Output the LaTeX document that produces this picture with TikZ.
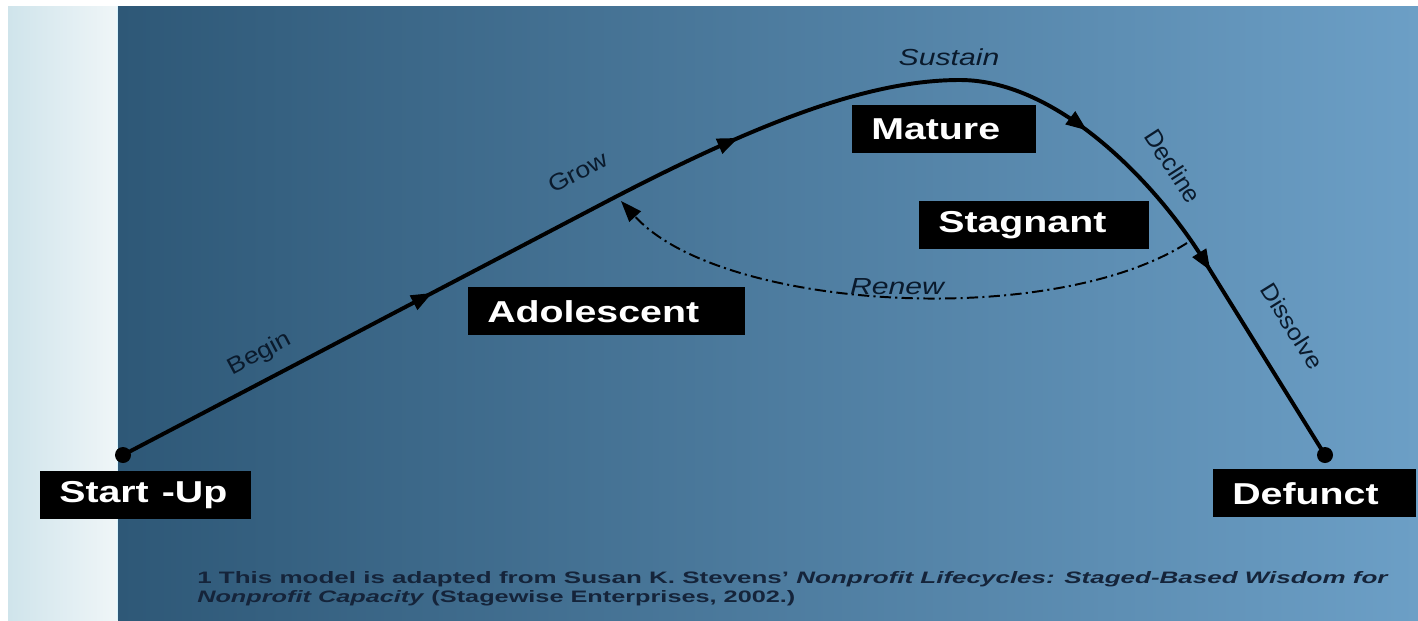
\documentclass[tikz,border=0pt]{standalone}
\usepackage{fontspec}
\usepackage{graphicx}
\setmainfont{Liberation Sans}
\usetikzlibrary{arrows.meta,decorations.markings}

\definecolor{stripL}{HTML}{CFE4EB}
\definecolor{stripR}{HTML}{F0F6F8}
\definecolor{panelL}{HTML}{2E5877}
\definecolor{panelR}{HTML}{6C9FC6}
\definecolor{ink}{HTML}{0A1A2C}
\definecolor{noteink}{HTML}{15243A}

\newcommand{\wide}[1]{\scalebox{1.3}[1]{#1}}

\begin{document}
\begin{tikzpicture}[x=0.025cm, y=-0.025cm,
  stagebox/.style={fill=black, text=white, anchor=north west, align=left,
    font=\fontsize{21.5}{24}\selectfont\bfseries,
    inner xsep=0.475cm, inner ysep=0pt, minimum height=1.2cm},
  dot/.style={circle, fill=black, inner sep=0pt, minimum size=0.4cm},
  lbl/.style={text=ink, inner sep=0pt, font=\fontsize{16.5}{19}\selectfont},
  ilbl/.style={lbl, font=\fontsize{16.5}{19}\selectfont\itshape},
  note/.style={text=noteink, inner sep=0pt, anchor=base west, font=\bfseries},
  tip/.style={-{Triangle[length=15pt,width=11pt]}},
  lifecurve/.style={line width=2.8pt, line join=round,
    postaction={decorate},
    decoration={markings,
      mark=at position 0.238 with {\arrow{Triangle[length=15pt,width=11pt]}},
      mark=at position 0.472 with {\arrow{Triangle[length=15pt,width=11pt]}},
      mark=at position 0.724 with {\arrow{Triangle[length=15pt,width=11pt]}},
      mark=at position 0.852 with {\arrow{Triangle[length=15pt,width=11pt]}}}},
  renewline/.style={line width=1.4pt, dash pattern=on 8pt off 3pt on 1.5pt off 3pt}]

% background
\fill[white] (0,0) rectangle (1418,620);
\useasboundingbox (0,0) rectangle (1418,620);
\shade[left color=stripL, right color=stripR] (8,6) rectangle (118,620);
\shade[left color=panelL, right color=panelR] (118,6) rectangle (1418,620);
\draw[line width=0.6pt, white!85!cyan] (117,6) -- (117,620);

% end points
\node[dot] (startdot) at (123,455) {};
\node[dot] (enddot) at (1325,455) {};
\coordinate (g1) at (600,205);
\coordinate (peak) at (960,80);
\coordinate (d1) at (1205,262);

% the life cycle
\draw[lifecurve] (startdot.center) -- (g1)
  .. controls (760,121) and (870,80) .. (peak)
  .. controls (1060,80) and (1160,188) .. (d1) -- (enddot.center);

% renew loop
\coordinate (renewA) at (1187,243);
\coordinate (renewB) at (621,201);
\draw[renewline, tip] (renewA) .. controls (1050,330) and (720,310) .. (renewB);

% stages
\node[stagebox, text width=4.325cm] (startup) at (40,471) {\wide{Start -Up}};
\node[stagebox, text width=5.975cm] (adolescent) at (468,287) {\wide{Adolescent}};
\node[stagebox, text width=3.65cm] (mature) at (852,105) {\wide{Mature}};
\node[stagebox, text width=4.8cm] (stagnant) at (919,201) {\wide{Stagnant}};
\node[stagebox, text width=4.125cm] (defunct) at (1213,469) {\wide{Defunct}};

% path labels
\node[lbl, rotate=28] (beginlbl) at (260,354) {\scalebox{1.15}[1]{Begin}};
\node[lbl, rotate=27] (growlbl) at (578,172) {\scalebox{1.15}[1]{Grow}};
\node[ilbl] (sustainlbl) at (949,57) {\scalebox{1.3}[1]{Sustain}};
\node[lbl, rotate=-57, font=\fontsize{17.5}{20}\selectfont] (declinelbl) at (1173,166) {Decline};
\node[lbl, rotate=-58] (dissolvelbl) at (1292,326) {\scalebox{1.1}[1]{Dissolve}};
\node[ilbl] (renewlbl) at (897,287) {\scalebox{1.3}[1]{Renew}};

% footnote
\node[note] (note1) at (197,583) {\resizebox{29.775cm}{0.3cm}{1 This model is adapted from Susan K. Stevens' \textit{Nonprofit Lifecycles: Staged-Based Wisdom for}}};
\node[note] (note2) at (197,602) {\resizebox{14.95cm}{0.3cm}{\textit{Nonprofit Capacity} (Stagewise Enterprises, 2002.)}};
\end{tikzpicture}
\end{document}
